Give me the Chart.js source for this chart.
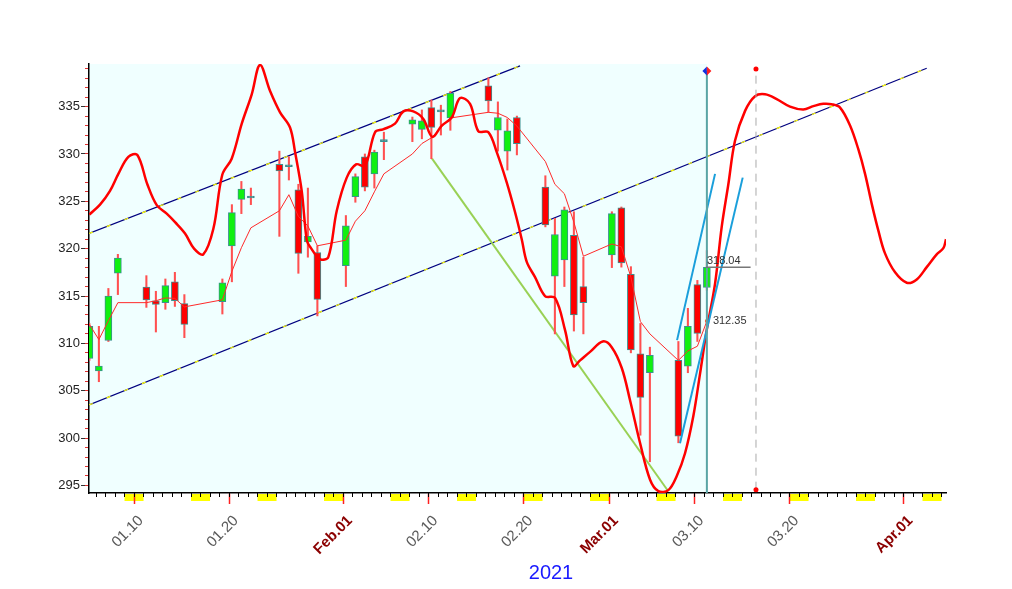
<!DOCTYPE html>
<html>
<head>
<meta charset="utf-8">
<script src="https://cdn.jsdelivr.net/npm/chart.js@4.4.4/dist/chart.umd.min.js"></script>
<style>
  html, body { margin: 0; padding: 0; background: #fff; }
  #wrap { width: 1012px; height: 589px; position: relative; }
</style>
</head>
<body>
<div id="wrap"><canvas id="chart"></canvas></div>
<script>
// Daily candles, 2021. x values are day-of-year (Jan 1 = 1).
const candleDays = [5, 6, 7, 8, 11, 12, 13, 14, 15, 19, 20, 21, 22, 25, 26, 27, 28, 29,
  32, 33, 34, 35, 36, 39, 40, 41, 42, 43, 47, 48, 49, 50, 53, 54, 55, 56, 57,
  60, 61, 62, 63, 64, 67, 68, 69, 70];
const opens = [308.4, 307.1, 310.3, 317.4, 315.95, 314.5, 314.3, 316.5, 314.2, 314.4, 320.3, 325.2, 325.4, 328.9, 328.75, 326.2, 320.7, 319.6,
  318.2, 325.5, 329.7, 327.9, 331.3, 333.15, 332.6, 334.9, 334.45, 333.8, 337.2, 332.5, 330.3, 333.85, 326.5, 317.1, 318.8, 321.4, 316.0,
  319.35, 324.3, 317.3, 308.9, 306.9, 308.2, 307.6, 316.2, 315.9];
const highs = [312.1, 311.8, 315.8, 319.4, 317.15, 315.5, 316.8, 317.5, 315.15, 316.8, 324.65, 327.1, 326.4, 330.3, 329.7, 326.8, 326.4, 320.3,
  323.5, 327.9, 330.0, 330.4, 332.3, 333.9, 334.65, 335.7, 335.15, 336.6, 338.05, 335.5, 333.7, 334.0, 327.7, 323.2, 324.4, 323.9, 319.1,
  323.9, 324.4, 318.1, 312.1, 309.6, 310.2, 313.7, 316.65, 319.8];
const lows = [308.2, 305.95, 310.2, 315.15, 313.8, 311.2, 313.6, 313.9, 310.6, 313.1, 316.5, 323.7, 324.65, 321.3, 327.25, 317.4, 319.1, 312.9,
  316.0, 324.9, 326.1, 326.4, 329.4, 331.3, 331.6, 329.5, 332.0, 332.5, 334.4, 330.3, 328.3, 329.9, 322.3, 311.0, 316.0, 311.3, 311.0,
  318.0, 318.05, 309.0, 300.3, 297.5, 299.5, 306.9, 310.2, 315.6];
const closes = [311.8, 307.6, 315.0, 319.0, 314.6, 314.1, 316.1, 314.5, 312.0, 316.4, 323.8, 326.3, 325.35, 328.2, 328.65, 319.5, 321.3, 314.65,
  322.4, 327.6, 326.5, 330.2, 331.35, 333.6, 333.5, 332.8, 334.55, 336.4, 335.6, 333.85, 332.45, 331.1, 322.5, 321.5, 324.1, 313.0, 314.3,
  323.7, 318.5, 309.3, 304.3, 308.75, 300.2, 311.8, 311.05, 318.04];

// thin red average line, one value per candle
const avgLine = [312.0, 310.4, 312.4, 314.3, 314.3, 314.5, 314.8, 314.75, 313.85, 314.6, 317.6, 320.1, 322.2, 324.0, 325.7, 323.4, 322.4, 320.3,
  320.9, 322.9, 324.0, 326.0, 327.9, 330.0, 331.1, 331.7, 332.8, 333.8, 334.4, 334.3, 333.85, 332.95, 329.2, 326.8, 325.8, 322.8, 319.2,
  320.5, 320.2, 317.0, 312.3, 311.0, 308.2, 309.2, 309.7, 312.35];

// thick red cycle curve (runs past the last candle)
const cycleDays = [5.29, 6.42, 7.47, 8.35, 9.40, 10.35, 11.40, 12.39, 13.44, 14.32, 15.37, 16.32, 17.29, 18.35, 19.29, 20.28, 21.34, 22.39,
  23.26, 24.32, 25.37, 26.42, 26.95, 27.65, 28.18, 28.53, 29.58, 30.45, 31.34, 32.39, 33.37, 34.32, 35.37, 36.21, 37.47, 38.35, 39.40,
  40.45, 41.40, 42.39, 43.44, 44.32, 45.37, 46.24, 47.29, 48.18, 49.23, 50.11, 50.81, 51.34, 52.21, 53.26, 54.32, 55.37, 56.24, 56.95,
  58.00, 59.34, 60.28, 61.34, 62.21, 63.26, 64.32, 65.19, 66.24, 67.13, 68.00, 68.87, 69.58, 70.28, 71.16, 71.86, 72.56, 73.26, 74.32,
  75.37, 76.42, 77.65, 79.05, 80.45, 81.51, 82.56, 83.44, 84.32, 85.37, 86.24, 86.95, 87.66, 88.35, 89.05, 90.11, 91.34, 92.39, 93.44,
  94.49, 95.19, 95.47];
const cycleValues = [323.6, 324.65, 326.1, 327.9, 329.7, 329.9, 326.8, 324.6, 323.7, 322.8, 321.6, 320.0, 319.4, 322.1, 327.8, 329.5, 333.2, 336.3,
  339.4, 336.65, 334.4, 332.8, 330.2, 326.1, 320.9, 320.2, 318.9, 319.1, 324.0, 327.5, 328.9, 328.75, 332.3, 332.6, 333.2, 334.5, 334.5,
  333.7, 331.8, 333.0, 333.85, 335.9, 335.3, 332.4, 332.3, 330.2, 327.0, 323.85, 321.0, 318.6, 317.0, 315.0, 314.8, 311.4, 307.6, 308.2,
  309.1, 310.2, 309.6, 307.4, 304.0, 299.5, 295.6, 294.4, 294.5, 296.0, 298.4, 302.3, 306.8, 311.4, 316.3, 322.3, 326.8, 331.4, 334.55,
  336.1, 336.3, 335.8, 335.0, 334.7, 335.05, 335.3, 335.25, 334.9, 333.0, 330.5, 327.9, 324.7, 321.9, 319.5, 317.5, 316.4, 316.75, 318.05,
  319.4, 320.05, 321.0];

// drawn lines: [start, end]
const upperChannelDays = [5.26, 50.63];
const upperChannelValues = [321.6, 339.3];
const lowerChannelDays = [5.26, 93.44];
const lowerChannelValues = [303.5, 339.05];
const trendDays = [41.37, 66.2];
const trendValues = [329.5, 294.44];
const blueADays = [67.16, 71.16];
const blueAValues = [310.34, 327.9];
const blueBDays = [67.47, 74.07];
const blueBValues = [299.46, 327.5];
const cursorDay = 70.3;
const cursorValues = [294.2, 338.76];
const futureDay = 75.47;
const futureValues = [294.55, 338.97];
const closeMarkDays = [70.2, 74.9];
const closeMark = 318.04;

// axes
const yTickValues = [295, 300, 305, 310, 315, 320, 325, 330, 335];
const xTickDays = [10, 20, 32, 41, 51, 60, 69, 79, 91];
const xTickLabels = ['01.10', '01.20', 'Feb.01', '02.10', '02.20', 'Mar.01', '03.10', '03.20', 'Apr.01'];
const monthLabels = ['Feb.01', 'Mar.01', 'Apr.01'];
const weekendStarts = [9, 16, 23, 30, 37, 44, 51, 58, 65, 72, 79, 86, 93];

const CANDLE_SHIFT = 0.3;
const X_MIN = 5.26, X_MAX = 95.47, Y_MIN = 294.2, Y_MAX = 339.5;
const FONT = 'Liberation Sans, Arial, sans-serif';

const xy = (xs, ys) => xs.map((x, i) => ({ x, y: ys[i] }));
const candleX = candleDays.map(d => d + CANDLE_SHIFT);
const minorDays = [];
for (let d = Math.ceil(X_MIN); d <= X_MAX; d++) minorDays.push(d);
const minorValues = [];
for (let v = 295; v <= Y_MAX; v++) minorValues.push(v);

function bodyColor(i) {
  if (Math.abs(closes[i] - opens[i]) < 0.15) return '#3A9090';
  return closes[i] > opens[i] ? '#10F010' : '#FF0000';
}

function line(label, data, color, width, order, extra) {
  return Object.assign({
    type: 'line', label, data, borderColor: color, backgroundColor: color,
    borderWidth: width, pointRadius: 0, tension: 0, order,
    xAxisID: 'x', yAxisID: 'y'
  }, extra || {});
}

const decor = {
  id: 'decor',
  beforeDraw(chart) {
    const { ctx, chartArea: a, scales: { x } } = chart;
    ctx.save();
    ctx.fillStyle = '#F0FFFF';
    const xr = x.getPixelForValue(cursorDay);
    ctx.fillRect(a.left, a.top, xr - a.left, a.bottom - a.top);
    ctx.fillStyle = '#FFFF00';
    weekendStarts.forEach(d => {
      const x0 = x.getPixelForValue(d);
      const x1 = x.getPixelForValue(Math.min(d + 2, X_MAX));
      ctx.fillRect(x0, a.bottom + 1, x1 - x0, 7);
    });
    ctx.restore();
  },
  afterDraw(chart) {
    const { ctx, scales: { x, y } } = chart;
    ctx.save();
    // split diamond at top of the cursor line
    const cx = x.getPixelForValue(cursorDay), cy = y.getPixelForValue(cursorValues[1]);
    const r = 4.5;
    ctx.fillStyle = '#1030E0';
    ctx.beginPath(); ctx.moveTo(cx, cy - r); ctx.lineTo(cx - r, cy); ctx.lineTo(cx, cy + r); ctx.closePath(); ctx.fill();
    ctx.fillStyle = '#FF2020';
    ctx.beginPath(); ctx.moveTo(cx, cy - r); ctx.lineTo(cx + r, cy); ctx.lineTo(cx, cy + r); ctx.closePath(); ctx.fill();

    ctx.font = '11px ' + FONT;
    ctx.fillStyle = '#333';
    ctx.textBaseline = 'bottom';
    ctx.textAlign = 'left';
    ctx.fillText(closeMark.toFixed(2), x.getPixelForValue(closeMarkDays[0]) + 1, y.getPixelForValue(closeMark) - 1);
    const last = avgLine[avgLine.length - 1];
    ctx.textBaseline = 'middle';
    ctx.fillText(last.toFixed(2), x.getPixelForValue(candleX[candleX.length - 1]) + 6, y.getPixelForValue(last));

    ctx.font = '20px ' + FONT;
    ctx.fillStyle = '#1A1AFF';
    ctx.textAlign = 'center';
    ctx.fillText('2021', 551, 573);
    ctx.restore();
  }
};

new Chart(document.getElementById('chart'), {
  type: 'bar',
  data: {
    datasets: [
      line('upper channel', xy(upperChannelDays, upperChannelValues), '#00007F', 1.2, 30),
      line('upper channel dash', xy(upperChannelDays, upperChannelValues), '#FFFF00', 1.2, 29, { borderDash: [4, 15] }),
      line('lower channel', xy(lowerChannelDays, lowerChannelValues), '#00007F', 1.2, 28),
      line('lower channel dash', xy(lowerChannelDays, lowerChannelValues), '#FFFF00', 1.2, 27, { borderDash: [4, 15] }),
      line('trend', xy(trendDays, trendValues), '#99D155', 2, 26),
      {
        type: 'bar', label: 'wicks', xAxisID: 'x', yAxisID: 'y', order: 20,
        data: candleX.map((x, i) => ({ x, y: [lows[i], highs[i]] })),
        backgroundColor: '#FF5050', barThickness: 1.4, grouped: false
      },
      {
        type: 'bar', label: 'bodies', xAxisID: 'x', yAxisID: 'y', order: 19,
        data: candleX.map((x, i) => ({ x, y: [opens[i], closes[i]] })),
        backgroundColor: c => bodyColor(c.dataIndex),
        borderColor: '#3A9090', borderWidth: 1, borderSkipped: false,
        barThickness: 7, minBarLength: 2, grouped: false
      },
      line('average', xy(candleX, avgLine), '#FF2A2A', 1, 10, {
        pointRadius: c => (c.dataIndex === avgLine.length - 1 ? 2 : 0),
        pointBackgroundColor: '#FF5020', pointBorderWidth: 0
      }),
      line('cycle', xy(cycleDays, cycleValues), '#FF0000', 2.5, 9, { tension: 0.35 }),
      line('blue a', xy(blueADays, blueAValues), '#1A9FDB', 2, 8),
      line('blue b', xy(blueBDays, blueBValues), '#1A9FDB', 2, 7),
      line('cursor', xy([cursorDay, cursorDay], cursorValues), '#5AA5A5', 2, 6),
      line('future', xy([futureDay, futureDay], futureValues), '#AAAAAA', 1, 5, {
        borderDash: [8, 6], pointRadius: 2.5, pointBackgroundColor: '#FF0000', pointBorderWidth: 0
      }),
      line('close mark', xy(closeMarkDays, [closeMark, closeMark]), '#777777', 1.5, 4)
    ]
  },
  options: {
    responsive: true,
    maintainAspectRatio: false,
    animation: false,
    layout: { padding: { top: 64, right: 66, left: 0, bottom: 0 } },
    plugins: { legend: { display: false }, tooltip: { enabled: false } },
    scales: {
      x: {
        type: 'linear', position: 'bottom', min: X_MIN, max: X_MAX, weight: 1, offset: false,
        afterBuildTicks: s => { s.ticks = xTickDays.map(v => ({ value: v })); },
        afterFit: s => { s.height = 96; },
        ticks: {
          autoSkip: false, minRotation: 45, maxRotation: 45, padding: 8, labelOffset: 7,
          callback: (v, i) => xTickLabels[i],
          color: c => (monthLabels.includes(xTickLabels[c.index]) ? '#8B0000' : '#5A5A5A'),
          font: c => ({ family: FONT, size: 15, weight: monthLabels.includes(xTickLabels[c.index]) ? 'bold' : 'normal' })
        },
        grid: { offset: false, drawOnChartArea: false, tickLength: 11, tickColor: '#FF2020', tickWidth: 1.5 },
        border: { display: true, color: '#000', width: 1.5 }
      },
      xMinor: {
        type: 'linear', position: 'bottom', min: X_MIN, max: X_MAX, weight: 0, offset: false,
        afterBuildTicks: s => { s.ticks = minorDays.map(v => ({ value: v })); },
        afterFit: s => { s.height = 0; },
        ticks: { display: false, autoSkip: false },
        grid: { offset: false, drawOnChartArea: false, tickLength: 4, tickColor: '#000', tickWidth: 1 },
        border: { display: false }
      },
      y: {
        type: 'linear', position: 'left', min: Y_MIN, max: Y_MAX, weight: 1,
        afterBuildTicks: s => { s.ticks = yTickValues.map(v => ({ value: v })); },
        afterFit: s => { s.width = 89; },
        ticks: { color: '#222', font: { family: FONT, size: 13 }, padding: 1 },
        grid: { drawOnChartArea: false, tickLength: 8, tickColor: '#333', tickWidth: 1 },
        border: { display: true, color: '#000', width: 1.5 }
      },
      yMinor: {
        type: 'linear', position: 'left', min: Y_MIN, max: Y_MAX, weight: 0,
        afterBuildTicks: s => { s.ticks = minorValues.map(v => ({ value: v })); },
        afterFit: s => { s.width = 0; },
        ticks: { display: false },
        grid: { drawOnChartArea: false, tickLength: 4, tickColor: '#E03030', tickWidth: 1 },
        border: { display: false }
      }
    }
  },
  plugins: [decor]
});
</script>
</body>
</html>
